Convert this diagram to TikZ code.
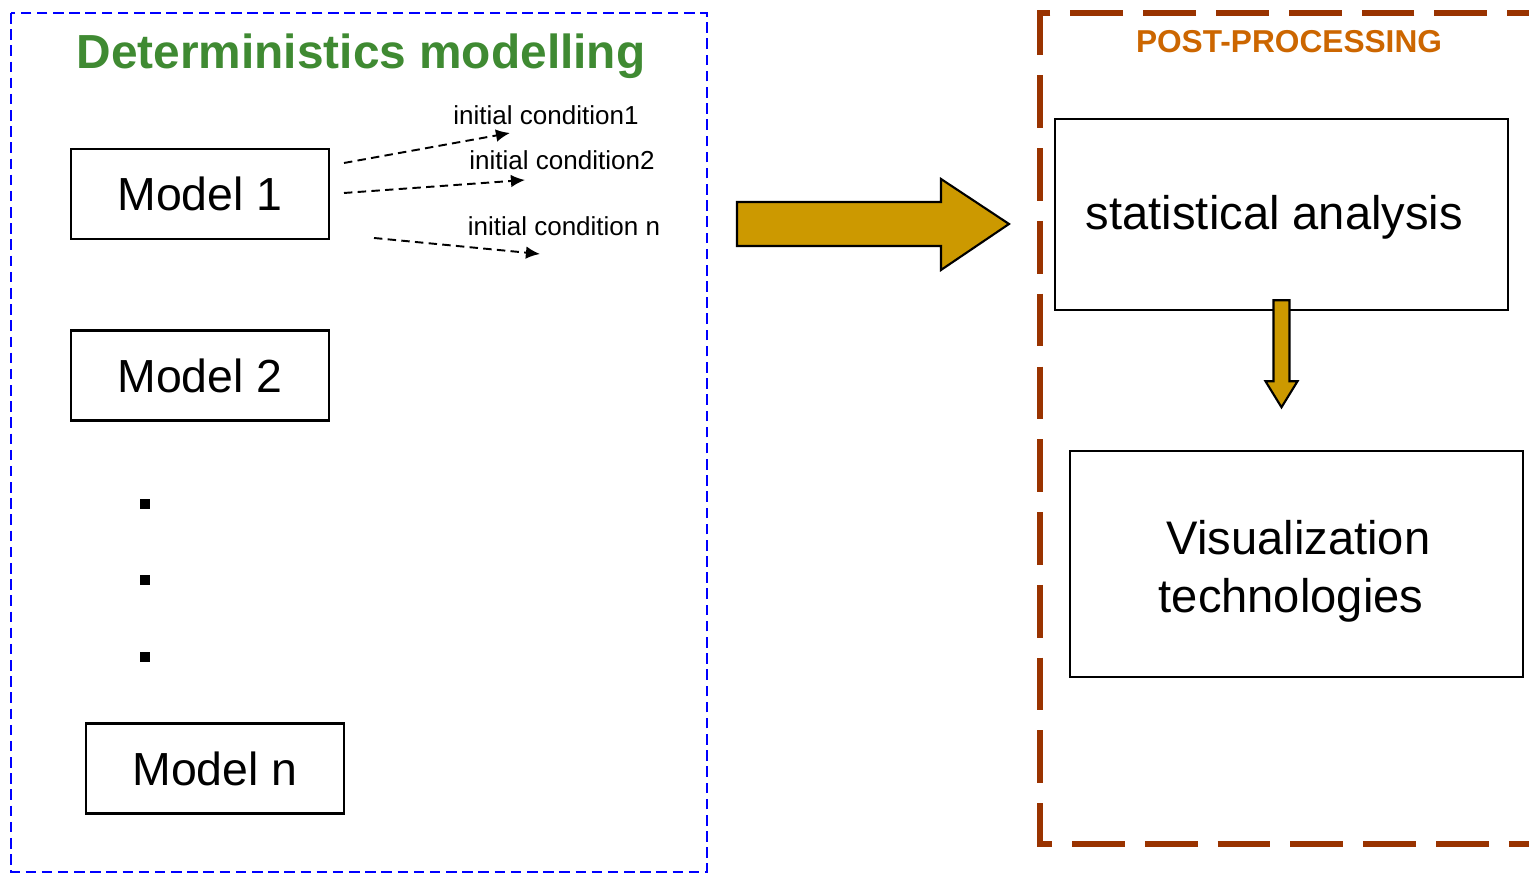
\documentclass[tikz,border=0pt]{standalone}
\usepackage{fontspec}
\setmainfont{Liberation Sans}
\usepackage{tikz}
\usetikzlibrary{calc, positioning, arrows.meta}

\definecolor{titlegreen}{HTML}{3F8A32}
\definecolor{postorange}{HTML}{CC6600}
\definecolor{postbrown}{HTML}{993300}
\definecolor{arrowgold}{HTML}{CC9900}

\tikzset{
  modelbox/.style={draw, line width=0.7pt, minimum width=2.58cm, minimum height=0.9cm,
    font=\fontsize{13.2}{16}\selectfont},
  bigbox/.style={draw, line width=0.7pt, minimum width=4.53cm},
  boxtext/.style={font=\fontsize{13.4}{16.5}\selectfont, align=center, inner sep=0pt},
  condlabel/.style={font=\fontsize{7.4}{9}\selectfont, inner sep=0pt},
  condarrow/.style={line width=0.55pt, dash pattern=on 2.4pt off 1.5pt,
    -{Latex[length=4pt,width=3.6pt]}},
  blockarrow/.style={fill=arrowgold, draw=black, line width=0.6pt, line join=miter}
}

\begin{document}
\begin{tikzpicture}[x=0.01cm, y=-0.01cm]
  \useasboundingbox (0,0) rectangle (1529,874);

  % left frame: deterministic runs
  \draw [blue, line width=0.55pt, dash pattern=on 3pt off 1.6pt] (11,13) rectangle (707,872);
  \node (title) at (361,56) [text=titlegreen, font=\fontsize{13.6}{16}\selectfont\bfseries]
    {Deterministics modelling};

  \node (m1) at (200,194) [modelbox] {Model 1};
  \node (m2) at (200,375.5) [modelbox] {Model 2};
  \node (mn) at (215,768.5) [modelbox] {Model n};

  % vertical ellipsis between the models
  \foreach \y in {504, 580, 657}
    \fill (140,\y-5) rectangle (150,\y+5);

  % initial conditions fanned out from model 1
  \node (ic1) at (546,115) [condlabel] {initial condition1};
  \node (ic2) at (562,160) [condlabel] {initial condition2};
  \node (icn) at (564,226) [condlabel] {initial condition n};
  \coordinate (s1) at (344,163);
  \coordinate (s2) at (344,193);
  \coordinate (sn) at (374,238);
  \coordinate (e1) at (510,133);
  \coordinate (e2) at (525,180);
  \coordinate (en) at (540,254);
  \draw [condarrow] (s1) -- (e1);
  \draw [condarrow] (s2) -- (e2);
  \draw [condarrow] (sn) -- (en);

  % transfer to post-processing
  \draw [blockarrow] (737,202) -- (941,202) -- (941,179) -- (1009,224)
    -- (941,270) -- (941,246) -- (737,246) -- cycle;

  % right frame: post-processing
  \draw [postbrown, line width=1.7pt, dash pattern=on 15pt off 5.7pt]
    (1560,13) -- (1040,13) -- (1040,844) -- (1560,844);
  \node (post) at (1289,42) [text=postorange, font=\fontsize{9}{11}\selectfont\bfseries]
    {POST-PROCESSING};

  \node (stat) at (1281.5,214.5) [bigbox, minimum height=1.91cm] {};
  \node (stattext) at ($(stat)+(-7,3)$) [boxtext] {statistical analysis};
  \node (vis) at (1296.5,564) [bigbox, minimum height=2.26cm] {};
  \node (vistext) at ($(vis)+(-3,7)$) [boxtext]
    {\hspace*{0.1cm}Visualization\\technologies\hspace*{0.05cm}};

  \draw [blockarrow] ($(stat.south)+(-8,-11)$) -- ($(stat.south)+(8,-11)$)
    -- ($(stat.south)+(8,70)$) -- ($(stat.south)+(16,70)$) -- ($(stat.south)+(0,96)$)
    -- ($(stat.south)+(-16,70)$) -- ($(stat.south)+(-8,70)$) -- cycle;
\end{tikzpicture}
\end{document}
